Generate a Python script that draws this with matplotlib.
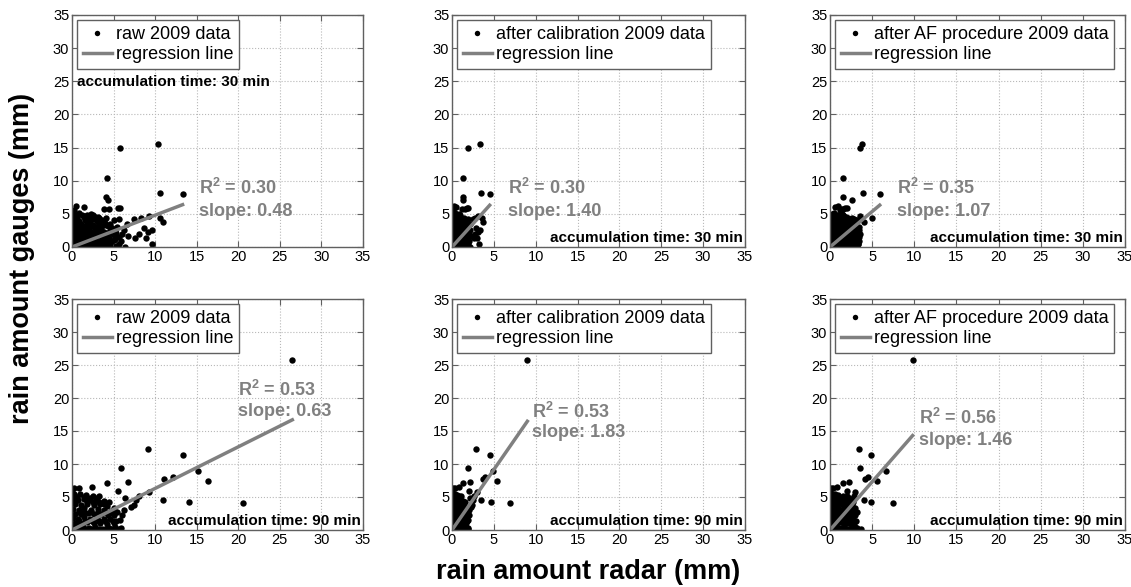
import numpy as np
import matplotlib.pyplot as plt

plt.rcParams['font.family'] = ['Liberation Sans', 'DejaVu Sans']
plt.rcParams['mathtext.fontset'] = 'custom'
plt.rcParams['mathtext.rm'] = 'Liberation Sans'
plt.rcParams['mathtext.bf'] = 'Liberation Sans:bold'

# === 30 min data : (raw radar, calibrated radar, AF radar, gauge) ===
pts_30 = [
    # isolated points
    (5.8, 1.9, 3.5, 15.0), (10.3, 3.4, 3.8, 15.6), (4.2, 1.3, 1.5, 10.4),
    (4.1, 1.3, 1.5, 7.6), (4.3, 1.3, 2.6, 7.1), (10.6, 3.5, 3.9, 8.2),
    (13.3, 4.5, 5.9, 8.0), (3.8, 1.2, 1.3, 5.8), (4.5, 1.5, 1.6, 5.7),
    (5.5, 1.8, 1.8, 5.9), (5.8, 1.9, 2.0, 5.9), (1.4, 0.5, 0.6, 6.0),
    (5.7, 1.9, 3.6, 4.2), (7.5, 2.5, 2.8, 4.2), (8.3, 2.8, 3.6, 4.4),
    (9.3, 3.1, 3.5, 4.7), (10.6, 3.6, 5.0, 4.4), (11.0, 3.7, 4.0, 3.8),
    (6.6, 2.2, 2.5, 3.4), (6.3, 2.1, 2.2, 2.6), (8.6, 2.9, 3.0, 2.8),
    (9.1, 3.1, 3.3, 2.2), (9.6, 3.3, 3.4, 2.6), (8.0, 2.7, 2.9, 2.0),
    (8.9, 3.0, 3.1, 1.3), (9.6, 3.2, 3.3, 0.5), (7.6, 2.6, 2.7, 1.3),
    (6.7, 2.3, 2.4, 1.6), (6.4, 2.2, 2.3, 0.0), (5.3, 1.8, 1.9, 0.1),
    (5.0, 1.7, 1.8, 1.0), (0.5, 0.2, 0.9, 6.2), (0.3, 0.1, 1.2, 5.6),
    # dense cluster
    (0.3, 0.1, 0.2, 5.0), (0.8, 0.3, 0.5, 5.1), (1.2, 0.4, 0.8, 4.9),
    (1.8, 0.6, 1.1, 4.8), (2.3, 0.8, 1.4, 5.0), (2.8, 1.0, 1.8, 4.6),
    (3.3, 1.1, 2.1, 4.4), (0.1, 0.0, 0.1, 4.5), (0.6, 0.2, 0.4, 4.4),
    (1.4, 0.5, 0.9, 4.5), (2.0, 0.7, 1.2, 4.3), (2.6, 0.9, 1.6, 4.2),
    (3.6, 1.2, 2.3, 4.1), (0.2, 0.1, 0.1, 4.0), (0.9, 0.3, 0.6, 3.9),
    (1.6, 0.6, 1.0, 4.0), (2.2, 0.8, 1.4, 3.8), (3.0, 1.0, 1.9, 3.9),
    (4.0, 1.4, 2.5, 3.6), (4.6, 1.6, 2.9, 3.5), (0.4, 0.1, 0.3, 3.5),
    (1.1, 0.4, 0.7, 3.4), (1.8, 0.6, 1.1, 3.5), (2.5, 0.9, 1.6, 3.3),
    (3.3, 1.1, 2.1, 3.4), (4.3, 1.5, 2.7, 3.1), (0.1, 0.0, 0.1, 3.0),
    (0.7, 0.2, 0.4, 2.9), (1.3, 0.4, 0.8, 3.0), (2.0, 0.7, 1.3, 2.8),
    (2.7, 0.9, 1.7, 3.0), (3.5, 1.2, 2.2, 2.7), (4.8, 1.7, 3.0, 2.8),
    (5.2, 1.8, 3.3, 2.5), (0.3, 0.1, 0.2, 2.5), (1.0, 0.3, 0.6, 2.4),
    (1.6, 0.6, 1.0, 2.5), (2.3, 0.8, 1.5, 2.3), (3.0, 1.0, 1.9, 2.4),
    (3.9, 1.3, 2.4, 2.2), (4.5, 1.6, 2.8, 2.3), (0.1, 0.0, 0.1, 2.0),
    (0.6, 0.2, 0.4, 1.9), (1.2, 0.4, 0.8, 2.0), (1.9, 0.7, 1.2, 1.8),
    (2.6, 0.9, 1.6, 2.0), (3.3, 1.1, 2.1, 1.9), (4.1, 1.4, 2.6, 1.7),
    (5.0, 1.7, 3.1, 1.8), (5.6, 1.9, 3.4, 1.5), (0.4, 0.1, 0.3, 1.5),
    (0.9, 0.3, 0.6, 1.4), (1.5, 0.5, 0.9, 1.5), (2.2, 0.8, 1.4, 1.3),
    (2.9, 1.0, 1.8, 1.5), (3.7, 1.3, 2.3, 1.2), (4.5, 1.6, 2.8, 1.4),
    (0.1, 0.0, 0.0, 1.0), (0.6, 0.2, 0.4, 0.9), (1.1, 0.4, 0.7, 1.0),
    (1.7, 0.6, 1.1, 0.9), (2.4, 0.8, 1.5, 1.0), (3.1, 1.1, 1.9, 0.8),
    (3.9, 1.3, 2.4, 0.9), (4.7, 1.6, 2.9, 0.7), (0.2, 0.1, 0.1, 0.5),
    (0.7, 0.2, 0.4, 0.4), (1.3, 0.4, 0.8, 0.5), (2.0, 0.7, 1.2, 0.4),
    (2.7, 0.9, 1.7, 0.5), (3.4, 1.2, 2.1, 0.3), (4.2, 1.4, 2.6, 0.4),
    (0.0, 0.0, 0.0, 0.1), (0.5, 0.2, 0.3, 0.0), (1.0, 0.3, 0.6, 0.1),
    (1.6, 0.5, 1.0, 0.0), (2.3, 0.8, 1.4, 0.1), (3.0, 1.0, 1.9, 0.0),
    (3.8, 1.3, 2.4, 0.1),
    (0.5, 0.2, 0.3, 4.7), (1.5, 0.5, 0.9, 4.7), (2.5, 0.9, 1.5, 4.8),
    (3.1, 1.0, 1.9, 4.6), (4.1, 1.4, 2.6, 4.3), (5.0, 1.7, 3.1, 4.0),
    (0.5, 0.2, 0.3, 3.2), (1.5, 0.5, 0.9, 3.2), (2.3, 0.8, 1.4, 3.2),
    (3.1, 1.0, 1.9, 3.1), (3.9, 1.3, 2.4, 3.3), (4.6, 1.6, 2.9, 3.0),
    (5.4, 1.8, 3.4, 3.0), (0.8, 0.3, 0.5, 2.2), (1.4, 0.5, 0.9, 2.2),
    (2.1, 0.7, 1.3, 2.1), (2.8, 1.0, 1.7, 2.2), (3.6, 1.2, 2.2, 2.0),
    (4.4, 1.5, 2.7, 2.0), (5.3, 1.8, 3.3, 2.1), (6.0, 2.0, 3.5, 2.0),
    (0.3, 0.1, 0.2, 1.2), (0.8, 0.3, 0.5, 1.2), (1.4, 0.5, 0.9, 1.2),
    (2.0, 0.7, 1.2, 1.1), (2.7, 0.9, 1.7, 1.2), (3.5, 1.2, 2.2, 1.0),
    (4.3, 1.5, 2.7, 1.1), (5.2, 1.8, 3.2, 1.2), (5.9, 2.0, 3.4, 0.9),
    (0.4, 0.1, 0.3, 0.2), (1.4, 0.5, 0.9, 0.2), (2.5, 0.9, 1.5, 0.2),
    (3.6, 1.2, 2.2, 0.6), (4.6, 1.6, 2.8, 0.2), (5.6, 1.9, 3.3, 0.5),
]

# === 90 min data ===
pts_90 = [
    (26.5, 9.0, 9.8, 25.7), (9.1, 2.9, 3.4, 12.3), (13.4, 4.5, 4.9, 11.3),
    (5.9, 1.9, 3.6, 9.4), (15.1, 4.9, 6.6, 9.0), (11.1, 3.7, 4.1, 7.7),
    (12.2, 3.9, 4.5, 8.1), (16.3, 5.4, 5.6, 7.5), (6.7, 2.2, 2.3, 7.3),
    (4.2, 1.3, 1.5, 7.1), (5.5, 2.0, 2.0, 5.9), (10.9, 3.5, 4.0, 4.5),
    (14.1, 4.7, 4.9, 4.3), (20.6, 6.9, 7.5, 4.1), (9.3, 3.0, 3.0, 5.7),
    (8.0, 2.6, 2.8, 5.2), (7.7, 2.5, 2.6, 4.5), (7.1, 2.3, 2.5, 3.5),
    (7.4, 2.4, 2.6, 3.8), (6.4, 2.1, 2.2, 4.8), (6.2, 2.0, 2.1, 3.0),
    (5.9, 1.9, 3.2, 0.3), (0.2, 0.1, 0.1, 6.3), (0.9, 0.3, 0.3, 6.4),
    (2.4, 0.8, 0.8, 6.5), (0.0, 0.0, 0.0, 6.0), (5.6, 1.9, 3.7, 0.1),
    (6.0, 2.0, 2.1, 2.2), (5.8, 1.9, 2.0, 1.5),
    # dense cluster
    (0.3, 0.1, 0.2, 5.4), (1.0, 0.3, 0.6, 5.5), (1.7, 0.6, 1.0, 5.3),
    (2.5, 0.8, 1.5, 5.2), (3.3, 1.1, 2.0, 5.1), (0.1, 0.0, 0.1, 4.7),
    (0.7, 0.2, 0.4, 4.6), (1.4, 0.5, 0.8, 4.7), (2.1, 0.7, 1.2, 4.5),
    (2.9, 1.0, 1.7, 4.6), (3.8, 1.3, 2.3, 4.4), (4.5, 1.5, 2.7, 4.2),
    (0.4, 0.1, 0.2, 3.9), (1.1, 0.4, 0.6, 3.8), (1.8, 0.6, 1.0, 4.0),
    (2.6, 0.9, 1.5, 3.8), (3.4, 1.1, 2.0, 3.9), (4.2, 1.4, 2.5, 3.6),
    (5.0, 1.7, 3.0, 3.4), (0.1, 0.0, 0.1, 3.2), (0.8, 0.3, 0.5, 3.1),
    (1.5, 0.5, 0.9, 3.3), (2.3, 0.8, 1.3, 3.1), (3.1, 1.0, 1.8, 3.2),
    (3.9, 1.3, 2.3, 3.0), (4.7, 1.6, 2.8, 2.9), (5.4, 1.8, 3.2, 2.7),
    (0.4, 0.1, 0.2, 2.5), (1.1, 0.4, 0.6, 2.4), (1.9, 0.6, 1.1, 2.6),
    (2.7, 0.9, 1.6, 2.4), (3.5, 1.2, 2.1, 2.5), (4.3, 1.4, 2.6, 2.3),
    (5.1, 1.7, 3.0, 2.2), (0.1, 0.0, 0.1, 1.8), (0.7, 0.2, 0.4, 1.7),
    (1.4, 0.5, 0.8, 1.9), (2.2, 0.7, 1.3, 1.7), (3.0, 1.0, 1.8, 1.8),
    (3.8, 1.3, 2.2, 1.6), (4.6, 1.5, 2.7, 1.7), (5.3, 1.8, 3.1, 1.4),
    (0.4, 0.1, 0.2, 1.1), (1.0, 0.3, 0.6, 1.0), (1.8, 0.6, 1.1, 1.2),
    (2.6, 0.9, 1.5, 1.0), (3.4, 1.1, 2.0, 1.1), (4.2, 1.4, 2.5, 0.9),
    (5.0, 1.7, 2.9, 1.0), (0.0, 0.0, 0.0, 0.4), (0.6, 0.2, 0.4, 0.3),
    (1.3, 0.4, 0.8, 0.5), (2.0, 0.7, 1.2, 0.3), (2.8, 0.9, 1.7, 0.4),
    (3.6, 1.2, 2.1, 0.2), (4.4, 1.5, 2.6, 0.3), (5.2, 1.7, 3.0, 0.4),
    (0.6, 0.2, 0.3, 5.0), (1.4, 0.5, 0.8, 5.0), (2.2, 0.7, 1.3, 4.9),
    (3.0, 1.0, 1.8, 4.8), (3.9, 1.3, 2.3, 4.0), (0.4, 0.1, 0.2, 4.3),
    (1.8, 0.6, 1.0, 4.3), (2.5, 0.8, 1.5, 4.2), (3.3, 1.1, 2.0, 4.3),
    (0.8, 0.3, 0.4, 2.8), (1.5, 0.5, 0.9, 2.8), (2.3, 0.8, 1.4, 2.8),
    (3.1, 1.0, 1.8, 2.8), (4.0, 1.3, 2.4, 2.7), (4.8, 1.6, 2.8, 2.6),
    (0.8, 0.3, 0.4, 1.4), (1.6, 0.5, 0.9, 1.4), (2.4, 0.8, 1.4, 1.4),
    (3.2, 1.1, 1.9, 1.4), (4.0, 1.3, 2.4, 1.3), (4.9, 1.6, 2.9, 1.3),
    (0.3, 0.1, 0.2, 0.1), (1.0, 0.3, 0.6, 0.1), (1.7, 0.6, 1.0, 0.1),
    (2.4, 0.8, 1.4, 0.1), (3.2, 1.1, 1.9, 0.1), (4.0, 1.3, 2.4, 0.1),
    (4.8, 1.6, 2.8, 0.1),
]

labels = ['raw 2009 data', 'after calibration 2009 data', 'after AF procedure 2009 data']
r2_30 = [0.30, 0.30, 0.35]
slope_30 = [0.48, 1.40, 1.07]
r2_90 = [0.53, 0.53, 0.56]
slope_90 = [0.63, 1.83, 1.46]

# text positions (data coords): (x, y of R2 line, y of slope line)
txt_30 = [(15.3, 8.9, 5.4), (6.7, 8.9, 5.4), (7.9, 8.9, 5.4)]
txt_90 = [(20.0, 21.2, 17.9), (9.6, 17.9, 14.7), (10.6, 17.0, 13.6)]

W, H = 1131, 587
fig = plt.figure(figsize=(W / 100, H / 100), dpi=100)

col_left = [72, 452, 830]
col_width = [291, 293, 295]
row_top = [15, 299]
row_h = [232, 231]

gray = '#808080'
edge = '#606060'


def draw_panel(ax, x, y, label, r2, slope, txt, acc, acc_top_left):
    x = np.asarray(x)
    y = np.asarray(y)
    ax.plot(x, y, 'o', color='black', ms=4.6, mec='black', mew=0, label=label)
    xl = np.array([0, x.max()])
    ax.plot(xl, slope * xl, color=gray, lw=2.5, label='regression line')
    ax.set_xlim(0, 35)
    ax.set_ylim(0, 35)
    ax.set_xticks(range(0, 36, 5))
    ax.set_yticks(range(0, 36, 5))
    ax.grid(True, linestyle=':', color='#b8b8b8', lw=0.8)
    ax.set_axisbelow(True)
    ax.tick_params(direction='in', top=True, right=True, length=4,
                   labelsize=10.5, pad=2, color=edge)
    for s in ax.spines.values():
        s.set_color(edge)
        s.set_linewidth(1.0)
    leg = ax.legend(loc='upper left', fontsize=13, handlelength=1.6,
                    handletextpad=0.25, borderpad=0.3, labelspacing=0.2,
                    borderaxespad=0.3, fancybox=False, framealpha=1,
                    markerscale=0.85)
    leg.get_frame().set_edgecolor(edge)
    leg.get_frame().set_linewidth(1.0)
    tx, ty1, ty2 = txt
    ax.text(tx, ty1, r'R$^\mathbf{2}$ = %.2f' % r2, color=gray,
            fontsize=13, fontweight='bold', va='center', ha='left')
    ax.text(tx, ty2, 'slope: %.2f' % slope, color=gray,
            fontsize=13, fontweight='bold', va='center', ha='left')
    if acc_top_left:
        ax.text(0.6, 24.9, 'accumulation time: %d min' % acc,
                fontsize=11, fontweight='bold', va='center', ha='left')
    else:
        ax.text(34.7, 1.35, 'accumulation time: %d min' % acc,
                fontsize=11, fontweight='bold', va='center', ha='right')


for r, (pts, r2s, slopes, txts, acc) in enumerate(
        [(pts_30, r2_30, slope_30, txt_30, 30), (pts_90, r2_90, slope_90, txt_90, 90)]):
    arr = np.array(pts)
    for c in range(3):
        rect = [col_left[c] / W, 1 - (row_top[r] + row_h[r]) / H,
                col_width[c] / W, row_h[r] / H]
        ax = fig.add_axes(rect)
        draw_panel(ax, arr[:, c], arr[:, 3], labels[c], r2s[c], slopes[c],
                   txts[c], acc, acc_top_left=(r == 0 and c == 0))

fig.text(588 / W, 1 - 572 / H, 'rain amount radar (mm)', fontsize=19.5,
         fontweight='bold', ha='center', va='center')
fig.text(22 / W, 1 - 258 / H, 'rain amount gauges (mm)', fontsize=19.5,
         fontweight='bold', ha='center', va='center', rotation=90)

fig.savefig('out.png', dpi=100)
